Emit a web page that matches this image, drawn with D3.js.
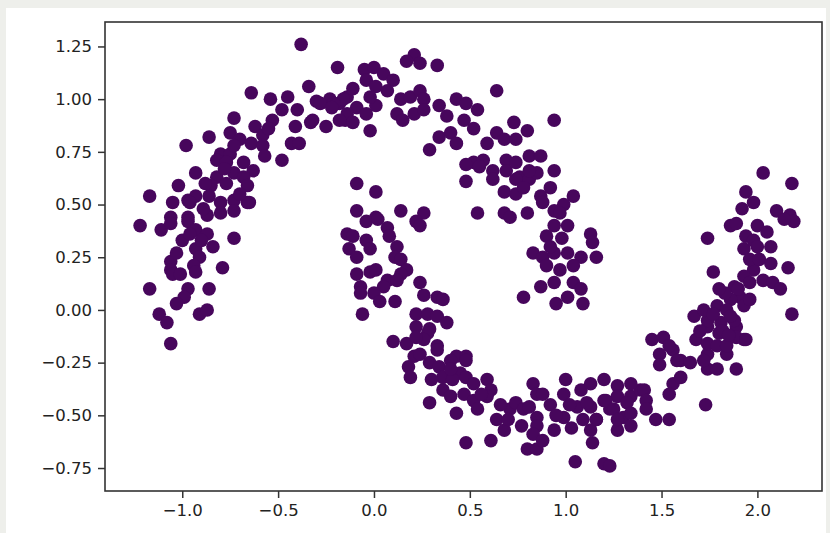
<!DOCTYPE html>
<html>
<head>
<meta charset="utf-8">
<script src="https://cdn.jsdelivr.net/npm/d3@7"></script>
<style>
  body { margin: 0; background: #eeefeb; }
  svg { display: block; }
  text { font-family: "DejaVu Sans", sans-serif; }
</style>
</head>
<body>
<svg id="chart" width="830" height="533"></svg>
<script>
// points, one array per moon
var upperMoon = [
  [-0.38,1.26],[-0.19,1.15],[-0.34,1.06],[-0.64,1.03],[-0.54,1.00],[-0.45,1.01],[-0.40,0.95],[-0.30,0.99],[-0.23,1.00],[-0.18,0.98],
  [-0.14,1.01],[-0.53,0.90],[-0.48,0.95],[-0.41,0.87],[-0.33,0.89],[-0.25,0.87],[-0.15,0.90],[-0.43,0.79],[-0.39,0.79],[-0.48,0.71],
  [-0.73,0.91],[-0.62,0.87],[-0.58,0.83],[-0.75,0.84],[-0.86,0.82],[-0.98,0.78],[-0.70,0.81],[-0.64,0.79],[-0.58,0.78],[-0.80,0.74],
  [-0.75,0.74],[-0.73,0.78],[-0.57,0.73],[-0.82,0.71],[-0.77,0.70],[-0.68,0.70],[-0.63,0.66],[-0.93,0.65],[-0.82,0.63],[-0.73,0.65],
  [-0.68,0.63],[-1.02,0.59],[-0.85,0.59],[-0.77,0.60],[-0.66,0.59],[-1.17,0.54],[-1.05,0.51],[-0.97,0.52],[-0.93,0.54],[-0.86,0.54],
  [-0.80,0.51],[-0.73,0.52],[-0.66,0.51],[-1.06,0.44],[-0.97,0.44],[-0.87,0.45],[-0.80,0.46],[-0.73,0.47],[-0.96,0.51],[-0.65,0.51],
  [-1.22,0.40],[-1.11,0.38],[-1.06,0.41],[-0.97,0.42],[-0.93,0.38],[-0.87,0.36],[-1.00,0.33],[-0.73,0.34],[-0.84,0.30],[-0.93,0.29],
  [-0.91,0.25],[-1.06,0.23],[-1.06,0.19],[-1.05,0.17],[-0.94,0.21],[-0.93,0.18],[-0.79,0.20],[-1.01,0.17],[-1.17,0.10],[-0.97,0.10],
  [-0.99,0.06],[-0.86,0.10],[-1.03,0.03],[-0.91,-0.02],[-0.87,0.00],[-1.12,-0.02],[-1.08,-0.06],[-1.06,-0.16],
  [-0.90,0.33],[-0.96,0.36],[-1.03,0.27],[-0.89,0.48],[-0.70,0.55],[-0.78,0.67],[-0.88,0.60],[-0.55,0.86],
  [-0.05,1.14],[0.00,1.15],[0.05,1.12],[0.10,1.09],[-0.04,1.09],[0.01,1.06],[0.07,1.04],[0.21,1.21],[0.17,1.18],[0.24,1.17],
  [0.33,1.16],[-0.11,1.05],[-0.16,1.00],[-0.21,0.98],[-0.28,0.98],[-0.09,0.96],[-0.14,0.93],[-0.22,0.96],[-0.32,0.90],[-0.18,0.90],
  [-0.11,0.89],[-0.02,0.85],[-0.04,0.93],[0.01,0.97],[-0.02,1.01],[0.14,1.00],[0.19,1.01],[0.24,1.04],[0.26,1.00],[0.12,0.93],
  [0.15,0.90],[0.21,0.93],[0.26,0.95],[0.34,0.97],[0.38,0.92],[0.34,0.82],[0.29,0.76],[0.40,0.84],[0.43,0.79],[0.43,1.00],
  [0.48,0.98],[0.54,0.95],[0.47,0.90],[0.52,0.86],[0.64,1.04],[0.94,0.90],[0.73,0.89],[0.80,0.85],[0.64,0.84],[0.59,0.79],
  [0.68,0.81],[0.74,0.81],[0.52,0.70],[0.57,0.71],[0.62,0.66],[0.69,0.71],[0.81,0.73],[0.87,0.73],[0.94,0.66],[0.48,0.61],
  [0.62,0.62],[0.76,0.63],[0.81,0.62],[0.85,0.65],[0.68,0.56],[0.74,0.55],[0.87,0.54],[0.88,0.51],[1.04,0.54],[0.99,0.50],
  [0.54,0.46],[0.68,0.46],[0.80,0.46],[0.94,0.47],[0.48,0.69],[0.55,0.68],[0.69,0.66],[0.74,0.70],[0.81,0.66],[0.74,0.62],
  [0.71,0.44],[0.97,0.46],[0.94,0.40],[0.90,0.35],[1.01,0.40],[1.13,0.36],[1.14,0.32],[1.16,0.25],[0.83,0.27],[0.88,0.25],
  [0.94,0.27],[1.01,0.27],[1.08,0.25],[0.90,0.21],[0.97,0.19],[1.04,0.21],[0.87,0.11],[0.94,0.13],[1.04,0.13],[1.08,0.10],
  [1.09,0.03],[1.01,0.06],[0.95,0.03],[0.78,0.06],[0.92,0.30],[0.98,0.34],[0.92,0.58],[0.78,0.58]
];

var lowerMoon = [
  [-0.09,0.60],[0.01,0.56],[-0.09,0.47],[0.01,0.44],[0.14,0.47],[0.26,0.46],[0.22,0.42],[0.24,0.40],[-0.04,0.42],[0.02,0.43],
  [0.07,0.39],[-0.14,0.36],[-0.11,0.35],[-0.04,0.33],[-0.02,0.29],[0.08,0.35],[0.12,0.30],[-0.13,0.29],[-0.09,0.25],[0.11,0.25],
  [0.14,0.24],[0.17,0.19],[0.14,0.17],[-0.09,0.17],[-0.02,0.18],[0.01,0.19],[0.07,0.14],[0.12,0.14],[0.05,0.11],[-0.07,0.11],
  [-0.07,0.08],[0.00,0.08],[0.03,0.04],[0.11,0.04],[-0.06,-0.02],[0.24,0.13],[0.26,0.07],[0.33,0.06],[0.36,0.05],[0.22,-0.02],
  [0.28,-0.02],[0.33,-0.03],[0.38,-0.06],[0.22,-0.08],[0.29,-0.09],[0.28,-0.11],[0.10,-0.15],[0.17,-0.16],[0.26,-0.14],[0.33,-0.17],
  [0.43,-0.22],[0.48,-0.22],[0.22,-0.13],[0.33,-0.19],[0.21,-0.22],[0.24,-0.21],[0.18,-0.27],[0.19,-0.32],[0.29,-0.25],[0.34,-0.27],
  [0.40,-0.24],[0.48,-0.24],[0.45,-0.30],[0.36,-0.32],[0.41,-0.33],[0.48,-0.32],[0.52,-0.35],[0.59,-0.33],[0.61,-0.38],[0.59,-0.41],
  [0.36,-0.38],[0.40,-0.41],[0.47,-0.40],[0.52,-0.43],[0.29,-0.44],[0.43,-0.49],[0.54,-0.47],[0.48,-0.63],[0.61,-0.62],[0.64,-0.52],
  [0.68,-0.57],[0.71,-0.47],[0.74,-0.44],[0.78,-0.47],[0.83,-0.35],[0.85,-0.40],[0.88,-0.40],[0.81,-0.46],[0.85,-0.51],[0.85,-0.55],
  [0.83,-0.59],[0.80,-0.66],[0.85,-0.66],[0.88,-0.62],[0.94,-0.57],[0.99,-0.51],[0.99,-0.40],[1.00,-0.33],[1.08,-0.38],[1.06,-0.46],
  [1.13,-0.46],[1.20,-0.43],[1.09,-0.52],[1.16,-0.52],[1.23,-0.47],[1.13,-0.57],[1.14,-0.63],[1.27,-0.57],[1.30,-0.51],[1.34,-0.41],
  [1.39,-0.38],[1.27,-0.36],[1.05,-0.72],[1.20,-0.73],[1.23,-0.74],
  [0.56,-0.40],[0.66,-0.45],[0.70,-0.52],[0.77,-0.55],[0.92,-0.45],[0.95,-0.50],[1.02,-0.45],[1.03,-0.56],[0.40,-0.28],[0.30,-0.33],
  [1.13,-0.35],[1.20,-0.33],[1.34,-0.35],[1.41,-0.38],[1.42,-0.43],[1.27,-0.41],[1.21,-0.43],[1.32,-0.44],[1.11,-0.44],[1.25,-0.47],
  [1.34,-0.49],[1.42,-0.47],[1.47,-0.52],[1.54,-0.52],[1.16,-0.52],[1.27,-0.52],[1.34,-0.55],
  [1.45,-0.14],[1.51,-0.13],[1.49,-0.21],[1.56,-0.19],[1.60,-0.24],[1.49,-0.26],[1.65,-0.25],[1.56,-0.35],[1.54,-0.40],[1.60,-0.32],
  [1.74,-0.28],[1.79,-0.28],[1.89,-0.28],[1.68,-0.14],[1.74,-0.08],[1.80,-0.11],[1.89,-0.08],[1.93,-0.14],[1.84,-0.21],[1.74,-0.21],
  [1.73,-0.45],[1.54,-0.17],[1.74,-0.16],[1.79,-0.17],[1.84,-0.17],[1.58,-0.24],[1.72,-0.24],
  [1.79,0.02],[1.67,-0.03],[1.74,-0.05],[1.81,-0.06],[1.88,-0.05],[1.70,-0.10],[1.82,-0.10],[1.89,-0.13],[1.94,-0.14],[1.91,0.06],
  [1.93,0.02],[1.86,0.05],[2.18,-0.02],[1.98,0.19],[1.93,0.16],[1.88,0.11],[1.96,0.13],[2.03,0.14],[2.08,0.13],[2.12,0.10],
  [1.77,0.18],[2.16,0.20],[1.93,0.29],[1.96,0.24],[2.01,0.24],[2.07,0.22],[2.07,0.30],[1.74,0.34],[1.86,0.40],[1.89,0.41],
  [2.00,0.40],[2.05,0.37],[1.94,0.35],[1.98,0.33],[2.10,0.47],[2.17,0.45],[2.19,0.42],[2.14,0.43],[1.94,0.56],[1.98,0.51],
  [1.92,0.48],[2.03,0.65],[2.18,0.60],
  [1.72,0.00],[1.77,-0.02],[1.84,0.00],[1.86,-0.03],[1.83,0.08],[1.90,0.10],[1.80,0.10],[1.85,-0.12],[1.96,0.05],[2.00,0.30]
];

var xTicks = [-1.0, -0.5, 0.0, 0.5, 1.0, 1.5, 2.0];
var yTicks = [-0.75, -0.5, -0.25, 0.0, 0.25, 0.5, 0.75, 1.0, 1.25];
var xDomain = [-1.403, 2.337];
var yDomain = [-0.859, 1.366];

var svg = d3.select("#chart"),
    width = +svg.attr("width"),
    height = +svg.attr("height");

var margin = {left: 105, top: 22, right: 8, bottom: 42};

// white figure area inside the grey page
svg.append("rect")
  .attr("x", 6).attr("y", 8)
  .attr("width", 820).attr("height", height - 8)
  .attr("fill", "#ffffff");

var x = d3.scaleLinear()
  .domain(xDomain)
  .range([margin.left, width - margin.right]);

var y = d3.scaleLinear()
  .domain(yDomain)
  .range([height - margin.bottom, margin.top]);

var points = upperMoon.concat(lowerMoon);

svg.append("g")
  .selectAll("circle")
  .data(points)
  .enter()
  .append("circle")
  .attr("cx", function(d) { return x(d[0]); })
  .attr("cy", function(d) { return y(d[1]); })
  .attr("r", 6.8)
  .attr("fill", "#47065c");

var xAxis = svg.append("g")
  .attr("transform", "translate(0," + (height - margin.bottom) + ")")
  .call(d3.axisBottom(x).tickValues(xTicks).tickFormat(d3.format(".1f")).tickSizeOuter(0).tickSize(7).tickPadding(6));

var yAxis = svg.append("g")
  .attr("transform", "translate(" + margin.left + ",0)")
  .call(d3.axisLeft(y).tickValues(yTicks).tickFormat(d3.format(".2f")).tickSizeOuter(0).tickSize(7).tickPadding(6));

[xAxis, yAxis].forEach(function(a) {
  a.select(".domain").remove();
  a.selectAll(".tick line").attr("stroke", "#333").attr("stroke-width", 1.5);
  a.selectAll(".tick text")
    .attr("fill", "#222")
    .style("font-size", "16.5px")
    .style("font-family", "DejaVu Sans, sans-serif");
});

// frame
svg.append("rect")
  .attr("x", margin.left)
  .attr("y", margin.top)
  .attr("width", width - margin.right - margin.left)
  .attr("height", height - margin.bottom - margin.top)
  .attr("fill", "none")
  .attr("stroke", "#333")
  .attr("stroke-width", 1.6);
</script>
</body>
</html>
